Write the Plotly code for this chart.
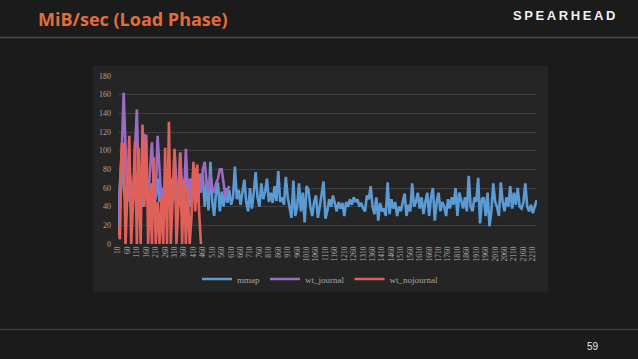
import plotly.graph_objects as go

categories = [10 + 10 * i for i in range(223)]

mmap = [20, 55, 100, 60, 45, 70, 50, 40, 65, 55, 45, 75, 50, 40, 60, 70, 45, 55, 65, 40,
        50, 70, 45, 60, 55, 40, 65, 50, 70, 45, 55, 60, 40, 75, 50, 45, 65, 55, 40, 70,
        50, 60, 45, 55, 75,
        72, 40, 68, 36, 88, 45, 30, 55, 66, 35, 56, 40, 60, 44, 58, 42,
        50, 83, 48, 58, 42, 55, 69, 45, 35, 60, 38, 55, 77, 50, 40, 65, 48, 56, 70, 45,
        55, 44, 62, 46, 78, 45, 50, 42, 72, 50, 40, 28, 68, 30, 40, 65, 35, 55, 23, 62,
        58, 40, 30, 45, 52, 28, 40, 55, 67, 27, 35, 48, 40, 52, 42, 35, 45, 38, 44, 30,
        45, 40, 48, 42, 50, 45, 48, 40, 44, 38, 35, 52, 48, 62, 40, 32, 50, 25, 44, 35,
        38, 30, 66, 32, 48, 38, 45, 30, 40, 35, 45, 54, 30, 42, 35, 65, 40, 45, 55, 38,
        50, 32, 45, 55, 30, 50, 60, 25, 45, 55, 35, 45, 40, 30, 48, 38, 50, 42, 60, 30,
        55, 45, 38, 50, 35, 73, 40, 35, 50, 45, 71, 22, 48, 50, 30, 55, 19, 35, 65, 45,
        40, 30, 66, 45, 35, 50, 40, 62, 38, 55, 42, 60, 40, 38, 45, 65, 40, 35, 42, 33,
        40, 47]

wt_journal = [25, 60, 100, 162, 90, 45, 80, 60, 45, 100, 144, 60, 45, 90, 118, 55, 45, 80, 109, 60,
              50, 116, 80, 45, 60, 40, 75, 90, 55, 45, 100, 65, 50, 98, 60, 45, 102, 55, 70, 45,
              82, 80, 62, 75, 55, 80, 88, 65, 55, 75, 60, 55, 65, 70, 80, 80, 65, 50, 58, 62]

wt_nojournal = [20, 5, 107, 107, 0, 50, 116, 0, 45, 110, 0, 103, 0, 128, 40, 117, 0, 60, 0, 93,
                0, 45, 0, 50, 0, 103, 0, 131, 0, 50, 102, 0, 40, 98, 0, 70, 0, 60, 0, 30,
                88, 35, 85, 35, 0]

x_ticks = list(range(10, 2211, 50))

fig = go.Figure()
fig.add_trace(go.Scatter(x=categories[:len(mmap)], y=mmap, name="mmap", mode="lines",
                         line=dict(color="#5b9bd5", width=2.6)))
fig.add_trace(go.Scatter(x=categories[:len(wt_journal)], y=wt_journal, name="wt_journal", mode="lines",
                         line=dict(color="#9b6cc4", width=2.6)))
fig.add_trace(go.Scatter(x=categories[:len(wt_nojournal)], y=wt_nojournal, name="wt_nojournal", mode="lines",
                         line=dict(color="#e0605a", width=2.6)))

L, R, T, B = 118, 537, 76, 244
PW, PH = R - L, B - T

def px(x):
    return (x - L) / PW

def py(y):
    return (B - y) / PH

fig.update_layout(
    width=638, height=359,
    margin=dict(l=L, r=638 - R, t=T, b=359 - B),
    paper_bgcolor="#1b1b1b",
    plot_bgcolor="rgba(0,0,0,0)",
    showlegend=True,
    legend=dict(orientation="h", x=px(320), xanchor="center", y=py(279), yanchor="middle",
                font=dict(family="Liberation Serif", size=9, color="#a6a6a6"),
                bgcolor="rgba(0,0,0,0)", itemwidth=30, tracegroupgap=0),
    title=dict(text="MiB/sec (Load Phase)", x=38 / 638, xanchor="left", xref="container",
               y=1 - 20 / 359, yanchor="middle", yref="container",
               font=dict(family="Open Sans", size=18, color="#e26d3a", weight="bold")),
    xaxis=dict(range=[10, 2232], tickvals=x_ticks, ticktext=[str(v) for v in x_ticks],
               tickangle=-90, showgrid=False, zeroline=False, showline=False,
               tickfont=dict(family="Liberation Serif", size=7.5, color="#b0b0b0"),
               ticks="", ticklen=0),
    yaxis=dict(range=[0, 180], dtick=20, showgrid=True, gridcolor="#3f3f3f", gridwidth=1,
               zeroline=False, showline=False,
               tickfont=dict(family="Liberation Serif", size=8, color="#a6a6a6"),
               ticks="", ticklabelstandoff=6),
    shapes=[
        dict(type="rect", xref="paper", yref="paper", x0=px(93), x1=px(548), y0=py(292), y1=py(66),
             fillcolor="#252525", line=dict(width=0), layer="below"),
        dict(type="line", xref="paper", yref="paper", x0=px(0), x1=px(638), y0=py(37.5), y1=py(37.5),
             line=dict(color="#4a4a4a", width=1.5)),
        dict(type="line", xref="paper", yref="paper", x0=px(0), x1=px(638), y0=py(329.5), y1=py(329.5),
             line=dict(color="#3a3a3a", width=1.5)),
    ],
    annotations=[
        dict(text="S\u2009P\u2009E\u2009A\u2009R\u2009H\u2009E\u2009A\u2009D", xref="paper", yref="paper",
             x=px(564), y=py(15.5), xanchor="center", yanchor="middle", showarrow=False,
             font=dict(family="Liberation Sans", size=13, color="#f0f0f0", weight="bold")),
        dict(text="59", xref="paper", yref="paper", x=px(593), y=py(346), xanchor="center",
             yanchor="middle", showarrow=False,
             font=dict(family="Liberation Sans", size=10, color="#e8e8e8")),
    ],
)

fig.write_html("out.html", config={"displayModeBar": False},
               post_script="document.body.style.margin='0';document.body.style.background='#1b1b1b';")
